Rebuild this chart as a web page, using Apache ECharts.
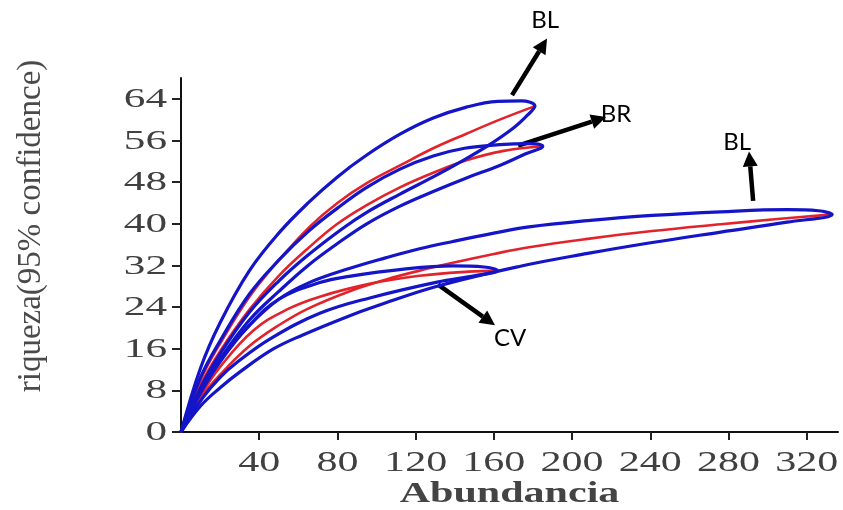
<!DOCTYPE html>
<html>
<head>
<meta charset="utf-8">
<script src="https://cdn.jsdelivr.net/npm/echarts@6/dist/echarts.min.js"></script>
<style>
  html, body { margin: 0; padding: 0; background: #fff; }
  #chart { width: 843px; height: 510px; }
</style>
</head>
<body>
<div id="chart"></div>
<script>
// tick labels
const xTicks = [40, 80, 120, 160, 200, 240, 280, 320];
const yTicks = [0, 8, 16, 24, 32, 40, 48, 56, 64];

// rarefaction curves [abundancia, riqueza]
const bl1Upper = [[0,0],[10,12.3],[20,21],[35,31],[50,38.2],[65,44],[80,49],[95,53.2],[112,57.2],[129,60.3],[146,62.4],[162,63.5],[174,63.6],[181,62.6]];
const bl1Mean  = [[0,0],[10,10],[20,17],[35,26],[50,33],[66,39.5],[80,44],[95,47.8],[112,51.2],[129,54.5],[146,57.3],[163,60],[181,62.6]];
const bl1Lower = [[0,0],[10,8.5],[20,15],[35,23],[50,29],[65,34],[83,39.2],[95,42.2],[112,45.7],[129,49],[143,51.9],[157,55],[170,58.4],[177,60.8],[181,62.6]];

const brUpper = [[0,0],[10,10.5],[20,17.5],[35,26.5],[50,33],[65,38.5],[80,43],[95,47],[112,50.5],[129,53],[145,54.5],[163,55.2],[178,55.4],[185,54.9]];
const brMean  = [[0,0],[10,9],[20,15.5],[35,23.5],[50,30],[65,35.3],[80,40],[95,43.6],[112,47],[129,49.8],[146,52.2],[165,54],[185,54.9]];
const brLower = [[0,0],[10,8],[20,14],[35,21.5],[50,27],[65,32],[80,36.2],[95,40],[112,43.4],[129,46.2],[146,48.8],[163,51.2],[176,53.4],[185,54.9]];

const bl2Upper = [[0,0],[10,8],[20,14],[35,20.5],[50,25.5],[65,28.6],[86,31.4],[105,33.5],[122,35.2],[139,36.6],[160,38.2],[178,39.4],[208,40.6],[241,41.6],[276,42.3],[310,42.7],[326,42.5],[333,41.8]];
const bl2Mean  = [[0,0],[10,6.5],[20,11],[35,16.5],[50,20.5],[65,23.7],[86,27],[105,29.3],[122,31],[139,32.5],[160,34.2],[178,35.5],[208,37.1],[241,38.6],[276,39.9],[305,40.9],[333,41.8]];
const bl2Lower = [[0,0],[10,5],[20,8.5],[30,11.5],[47,15.9],[62,18.6],[86,22.3],[100,24.2],[131,28],[173,31.8],[208,34.3],[241,36.4],[276,38.4],[310,40.3],[333,41.8]];

const cvUpper = [[0,0],[10,7.5],[20,13.5],[35,20.5],[50,25.5],[71,28.7],[86,29.9],[114,31.3],[139,31.9],[155,31.7],[162,31]];
const cvMean  = [[0,0],[10,7],[20,12.5],[37,19.5],[54,23.5],[71,26],[97,28.5],[122,30],[147,30.8],[162,31]];
const cvLower = [[0,0],[11,6.5],[20,10.5],[29,13.5],[46,18],[71,22.8],[97,25.8],[131,28.8],[150,30],[162,31]];

// annotation arrows: [from, to] in data units, and label positions
const notes = [
  { text: "BL", from: [169.3, 64.7], to: [187.2, 75.6], label: [186.2, 79.0] },
  { text: "BR", from: [172.4, 55.0], to: [217.4, 60.5], label: [222.5, 61.0] },
  { text: "BL", from: [292.6, 44.4], to: [290.5, 53.9], label: [284.4, 55.6] },
  { text: "CV", from: [131.5, 28.3], to: [160.6, 20.5], label: [168.3, 18.0] }
];

const BLUE = "#1414c8";
const RED = "#e3232b";

function loop(upper, lower) {
  // upper branch out to the tip, then back along the lower branch
  return upper.concat(lower.slice(0, -1).reverse());
}

function meanSeries(data) {
  return { type: "line", data: data, smooth: 0.4, symbol: "none",
    lineStyle: { color: RED, width: 2.6 }, silent: true };
}
function envSeries(data) {
  return { type: "line", data: data, smooth: 0.4, symbol: "none",
    lineStyle: { color: BLUE, width: 3.2 }, silent: true };
}

const chart = echarts.init(document.getElementById("chart"));

chart.setOption({
  animation: false,
  backgroundColor: "#fff",
  grid: { left: 181, right: 5, top: 78, bottom: 78, outerBoundsMode: "none" },
  xAxis: {
    type: "value", min: 0, max: 336, interval: 40,
    axisLine: { lineStyle: { color: "#111", width: 2 } },
    axisTick: { show: true, length: 8, customValues: xTicks, lineStyle: { color: "#222", width: 2 } },
    axisLabel: { show: false },
    splitLine: { show: false }
  },
  yAxis: {
    type: "value", min: 0, max: 68, interval: 8,
    axisLine: { show: true, lineStyle: { color: "#111", width: 2 } },
    axisTick: { show: true, length: 9, customValues: yTicks, lineStyle: { color: "#222", width: 2 } },
    axisLabel: { show: false },
    splitLine: { show: false }
  },
  series: [
    meanSeries(bl1Mean), meanSeries(brMean), meanSeries(bl2Mean), meanSeries(cvMean),
    envSeries(loop(bl1Upper, bl1Lower)),
    envSeries(loop(brUpper, brLower)),
    envSeries(loop(bl2Upper, bl2Lower)),
    envSeries(loop(cvUpper, cvLower))
  ]
});

// tick labels, axis names and arrows as graphics placed through the axes
const px = p => chart.convertToPixel({ xAxisIndex: 0, yAxisIndex: 0 }, p);
const serif = "'Liberation Serif', 'Times New Roman', serif";
const g = [];

xTicks.forEach(v => {
  const p = px([v, 0]);
  g.push({ type: "text", x: p[0], y: p[1] + 31, scaleX: 1.45,
    style: { text: String(v), font: "29px " + serif, fill: "#404040", align: "center", verticalAlign: "middle" } });
});
yTicks.forEach(v => {
  const p = px([0, v]);
  g.push({ type: "text", x: p[0] - 14, y: p[1] + 1, scaleX: 1.6,
    style: { text: String(v), font: "27px " + serif, fill: "#404040", align: "right", verticalAlign: "middle" } });
});

const mid = px([168, 0]);
g.push({ type: "text", x: mid[0], y: mid[1] + 63, scaleX: 1.45,
  style: { text: "Abundancia", font: "bold 29px " + serif, fill: "#444", align: "center", verticalAlign: "middle" } });
g.push({ type: "text", x: 31, y: 226, rotation: Math.PI / 2,
  style: { text: "riqueza(95% confidence)", font: "33px " + serif, fill: "#4a4a4a", align: "center", verticalAlign: "middle" } });

notes.forEach(n => {
  const a = px(n.from), b = px(n.to);
  const dx = b[0] - a[0], dy = b[1] - a[1];
  const len = Math.sqrt(dx * dx + dy * dy);
  const ux = dx / len, uy = dy / len;
  const head = 15, half = 7.5;
  const bx = b[0] - ux * head, by = b[1] - uy * head;
  g.push({ type: "line", shape: { x1: a[0], y1: a[1], x2: bx, y2: by },
    style: { stroke: "#000", lineWidth: 4.5 } });
  g.push({ type: "polygon", shape: { points: [
      [b[0], b[1]], [bx - uy * half, by + ux * half], [bx + uy * half, by - ux * half]] },
    style: { fill: "#000" } });
  const l = px(n.label);
  g.push({ type: "text", x: l[0], y: l[1],
    style: { text: n.text, font: "24px Lato, 'Open Sans', sans-serif", fill: "#000", align: "center", verticalAlign: "middle" } });
});

chart.setOption({ graphic: g });
</script>
</body>
</html>
